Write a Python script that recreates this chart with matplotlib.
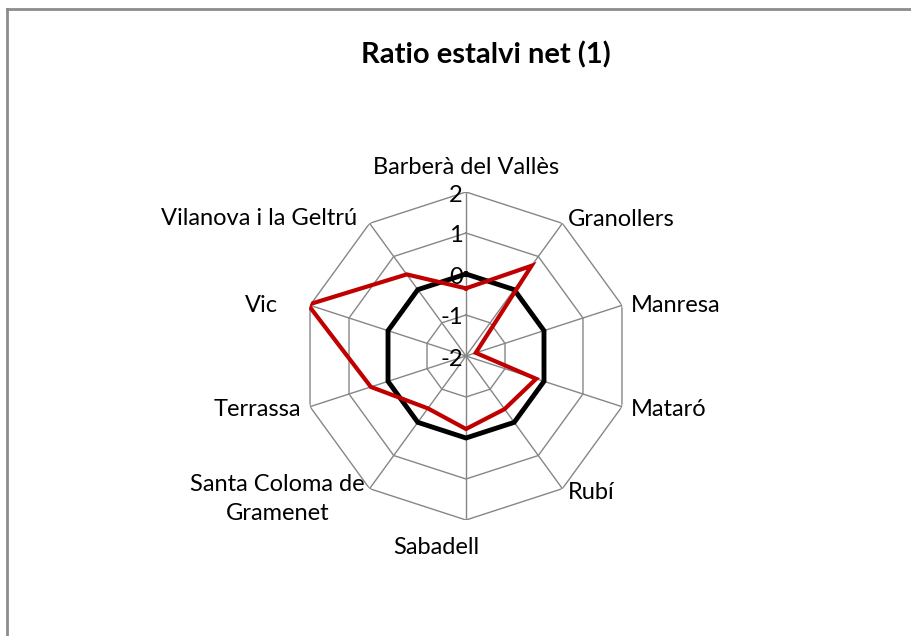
import numpy as np
import matplotlib
matplotlib.use("Agg")
import matplotlib.pyplot as plt
from matplotlib.lines import Line2D

plt.rcParams['font.family'] = ['Lato', 'DejaVu Sans']

categories = ["Barberà del Vallès", "Granollers", "Manresa", "Mataró", "Rubí",
              "Sabadell", "Santa Coloma de\nGramenet", "Terrassa", "Vic",
              "Vilanova i la Geltrú"]
red_values = [-0.35, 0.72, -1.75, -0.2, -0.4, -0.22, -0.42, 0.44, 2.05, 0.46]
black_values = [0, 0, 0, 0, 0, 0, 0, 0, 0, 0]
ring_values = [-1, 0, 1, 2]
tick_labels = ["2", "1", "0", "-1", "-2"]
tick_values = [2, 1, 0, -1, -2]

W, H = 912, 636
fig = plt.figure(figsize=(W / 100, H / 100), dpi=100)

# chart frame (top and left edges only)
fig.add_artist(Line2D([7 / W, 7 / W], [0, 1 - 9 / H], transform=fig.transFigure,
                      color="#8c8c8c", lw=2))
fig.add_artist(Line2D([7 / W, 1], [1 - 9 / H, 1 - 9 / H], transform=fig.transFigure,
                      color="#8c8c8c", lw=2))

cx, cy, R = 466, 356, 164
ax = fig.add_axes([(cx - R) / W, 1 - (cy + R) / H, 2 * R / W, 2 * R / H],
                  projection="polar")
ax.set_theta_zero_location("N")
ax.set_theta_direction(-1)
ax.set_ylim(-2, 2)
ax.grid(False)
ax.set_xticks([])
ax.set_yticks([])
ax.spines["polar"].set_visible(False)
ax.patch.set_visible(False)

n = len(categories)
theta = np.arange(n) * 2 * np.pi / n
theta_c = np.append(theta, theta[0])

grid_col = "#868686"
for rv in ring_values:
    ax.plot(theta_c, [rv] * (n + 1), color=grid_col, lw=1, zorder=1)
for t in theta:
    ax.plot([t, t], [-2, 2], color=grid_col, lw=1, zorder=1)

ax.plot(theta_c, black_values + [black_values[0]], color="black", lw=3.5, zorder=3,
        solid_joinstyle="miter")
ax.plot(theta_c, red_values + [red_values[0]], color="#C00000", lw=3.0, zorder=4,
        solid_joinstyle="miter")

fs = 17
for tl, tv in zip(tick_labels, tick_values):
    ax.annotate(tl, xy=(0, tv), xytext=(-3, -3), textcoords="offset pixels",
                ha="right", va="center", fontsize=fs, color="black",
                annotation_clip=False)

# label offsets in pixels (dx, dy up) and alignments
offsets = [(0, 24, "center"), (5, 4, "left"), (9, 0, "left"), (9, -3, "left"),
           (5, -4, "left"), (-30, -28, "center"), (-5, -10, "right"),
           (-9, -3, "right"), (-32, 0, "right"), (-12, 5, "right")]
for t, lab, (dx, dy, ha) in zip(theta, categories, offsets):
    ax.annotate(lab, xy=(t, 2), xytext=(dx, dy), textcoords="offset pixels",
                ha=ha, va="center", fontsize=fs, color="black",
                multialignment="center", linespacing=1.45, annotation_clip=False)

fig.text(486 / W, 1 - 55 / H, "Ratio estalvi net (1)", ha="center", va="center",
         fontsize=21, fontweight="bold", color="black")

fig.savefig("out.png", dpi=100, facecolor="white")
